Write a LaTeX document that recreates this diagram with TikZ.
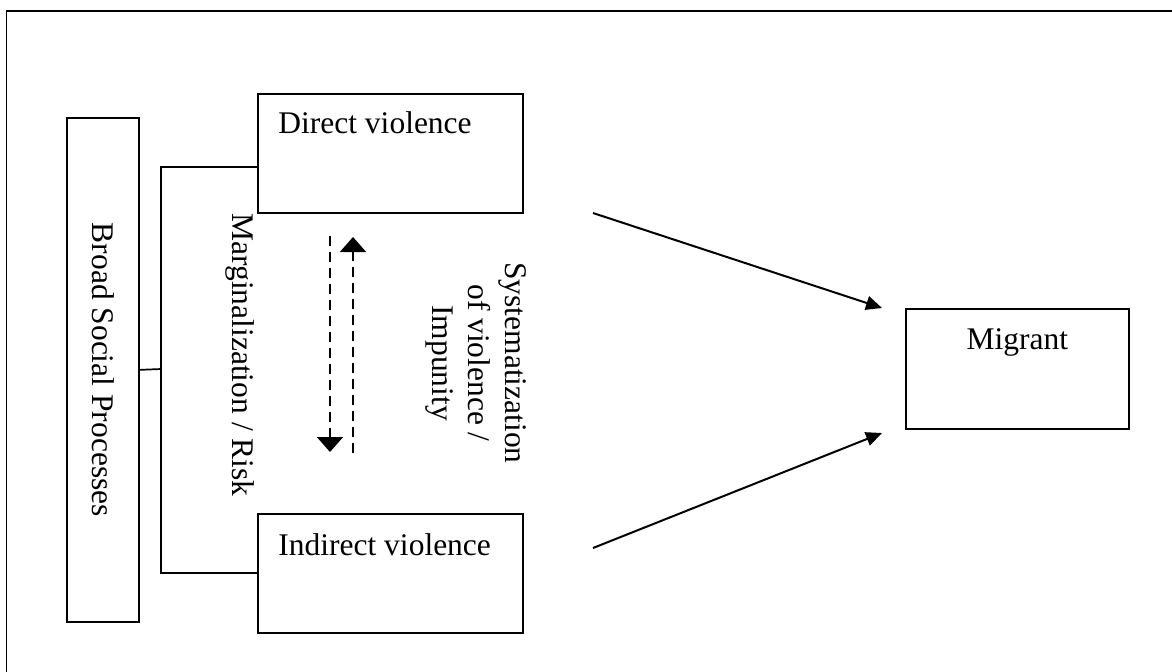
\documentclass[tikz,border=0pt]{standalone}
\usepackage{fontspec}
\setmainfont{Liberation Serif}
\usetikzlibrary{arrows.meta, positioning}

\tikzset{
  panel/.style={draw, line width=0.85pt, inner sep=0pt, anchor=north west},
  lbl/.style={inner sep=0pt, font=\fontsize{15.75}{18.25}\selectfont},
  vlbl/.style={lbl, rotate=-90, align=center},
  link/.style={line width=0.85pt},
  flow/.style={line width=1pt, -{Triangle[length=8pt, width=7pt]}},
  feedback/.style={line width=0.9pt, dash pattern=on 5pt off 3pt,
    -{Triangle[length=7.5pt, width=13pt]}}
}

\begin{document}
\begin{tikzpicture}[x=0.5pt, y=-0.5pt]
	
	\useasboundingbox (0,0) rectangle (1172,671);
	
	% Outer frame
	\draw[link] (6.5,700) -- (6.5,11) -- (1200,11);
	
	% Boxes
	\node[panel, minimum width=36pt, minimum height=252pt] (broad) at (66,117) {};
	\node[panel, minimum width=132.5pt, minimum height=59.5pt] (direct) at (257,93) {};
	\node[panel, minimum width=132.5pt, minimum height=59.5pt] (indirect) at (257,513) {};
	\node[panel, minimum width=111.5pt, minimum height=60pt] (migrant) at (905,308) {};
	
	% Box texts
	\node[vlbl] (broadtxt) at (broad.center) {Broad Social Processes};
	\node[lbl, anchor=base west] (directtxt) at ([xshift=10.5pt, yshift=-20pt]direct.north west) {Direct violence};
	\node[lbl, anchor=base west] (indirecttxt) at ([xshift=10.5pt, yshift=-21pt]indirect.north west) {Indirect violence};
	\node[lbl, anchor=base] (migranttxt) at ([yshift=-20.5pt]migrant.north) {Migrant};
	
	% Bracket
	\coordinate (bj) at (161,369);
	\draw[link] (broad.east) -- (bj);
	\draw[link] ([yshift=23.5pt]direct.south west) -| (bj) |- ([yshift=-30pt]indirect.north west);
	
	% Dashed arrows between the violence boxes
	\coordinate (dtop) at (330,236);
	\coordinate (dbot) at (330,452);
	\coordinate (ubot) at (353,453);
	\coordinate (utop) at (353,237);
	\draw[feedback] (dtop) -- (dbot);
	\draw[feedback] (ubot) -- (utop);
	
	% Side labels
	\node[vlbl] (marg) at (240,355) {Marginalization / Risk};
	\node[vlbl] (syst) at (476,363) {Systematization\\of violence /\\Impunity};
	
	% Arrows towards the migrant
	\coordinate (a1) at (593,213);
	\coordinate (a2) at (593,548);
	\coordinate (h1) at (882,308);
	\coordinate (h2) at (882,433);
	\draw[flow] (a1) -- (h1);
	\draw[flow] (a2) -- (h2);
	
\end{tikzpicture}
\end{document}
